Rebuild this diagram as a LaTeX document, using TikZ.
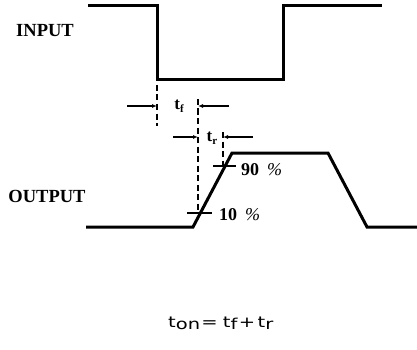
\documentclass[tikz,border=0pt]{standalone}
\usepackage{fontspec}
\setmainfont{Liberation Serif}
\newfontfamily\eqfont{DejaVu Sans}
\usetikzlibrary{arrows.meta}
\begin{document}
\begin{tikzpicture}[x=1pt,y=-1pt,
  wave/.style={line width=3pt, line join=miter},
  guide/.style={line width=1.2pt, dash pattern=on 6pt off 3.5pt},
  tick/.style={line width=1.3pt},
  arr/.style={line width=1.1pt,-{Latex[length=5pt,width=4pt]}},
  lbl/.style={font=\fontsize{18.5}{21}\selectfont\bfseries, inner sep=0pt},
  pct/.style={font=\fontsize{18}{21}\selectfont\bfseries, inner sep=0pt, anchor=west},
  tlab/.style={font=\fontsize{17}{20}\selectfont\bfseries, inner sep=0pt}]
\useasboundingbox (0,0) rectangle (417,350);
% input waveform
\coordinate (i0) at (88,6);
\coordinate (i1) at (157,6);
\coordinate (i2) at (157,80);
\coordinate (i3) at (283,80);
\coordinate (i4) at (283,6);
\coordinate (i5) at (382,6);
\draw[wave] (i0) -- (i1) -- (i2) -- (i3) -- (i4) -- (i5);
% output waveform
\coordinate (o0) at (86,227);
\coordinate (o1) at (193,227);
\coordinate (o2) at (232,153);
\coordinate (o3) at (328,153);
\coordinate (o4) at (367,227);
\coordinate (o5) at (417,227);
\draw[wave] (o0) -- (o1) -- (o2) -- (o3) -- (o4) -- (o5);
% labels
\node[lbl] (in) at (45,31) {INPUT};
\node[lbl] (out) at (47,196) {OUTPUT};
% dashed guides
\coordinate (g1a) at (157,85); \coordinate (g1b) at (157,126);
\coordinate (g2a) at (198,99); \coordinate (g2b) at (198,213);
\coordinate (g3a) at (223,132); \coordinate (g3b) at (223,166);
\draw[guide] (g1a) -- (g1b);
\draw[guide] (g2a) -- (g2b);
\draw[guide] (g3a) -- (g3b);
% level ticks
\coordinate (n1) at (213,166); \coordinate (n2) at (236,166);
\coordinate (m1) at (187,213); \coordinate (m2) at (212,213);
\draw[tick] (n1) -- (n2);
\draw[tick] (m1) -- (m2);
\node[pct] (p90) at (241,170) {90\hspace{8pt}{\mdseries\itshape\%}};
\node[pct] (p10) at (219,215) {10\hspace{8pt}{\mdseries\itshape\%}};
% dimension arrows
\coordinate (fa) at (127,106); \coordinate (fb) at (157,106);
\coordinate (fc) at (229,106); \coordinate (fd) at (198,106);
\coordinate (ra) at (173,137); \coordinate (rb) at (198,137);
\coordinate (rc) at (253,137); \coordinate (rd) at (223,137);
\draw[arr] (fa) -- (fb);
\draw[arr] (fc) -- (fd);
\draw[arr] (ra) -- (rb);
\draw[arr] (rc) -- (rd);
\node[tlab] (tf) at (179,106) {t\raisebox{-3pt}{\fontsize{11}{13}\selectfont f}};
\node[tlab] (tr) at (212,138) {t\raisebox{-3pt}{\fontsize{11}{13}\selectfont r}};
% equation
\node[inner sep=0pt, anchor=base west, font=\eqfont\fontsize{15}{18}\selectfont] (eq) at (168,327)
  {\scalebox{1.3}[1]{t\raisebox{-2pt}{on}\kern1pt=\kern4pt t\raisebox{-2pt}{f}\kern1pt+\kern2pt t\raisebox{-2pt}{r}}};
\end{tikzpicture}
\end{document}
